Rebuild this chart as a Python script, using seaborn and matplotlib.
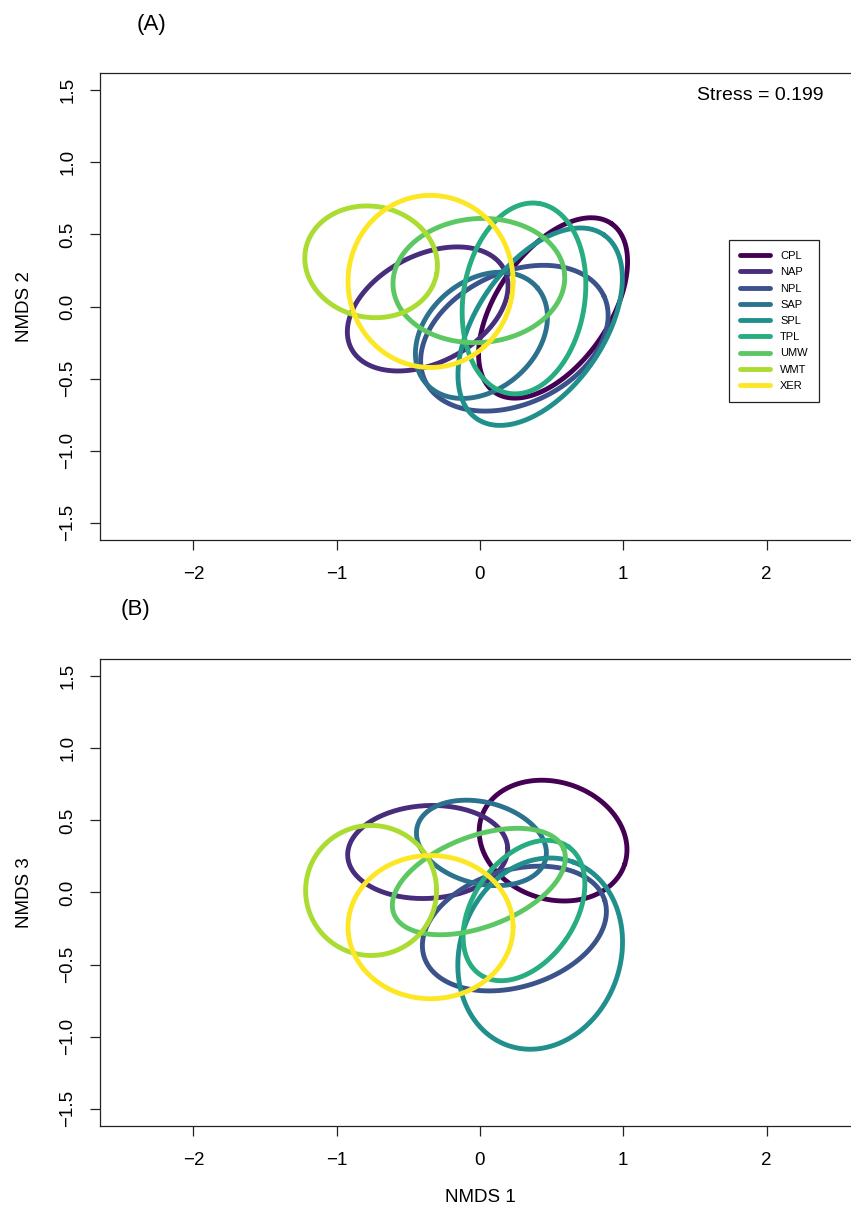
import numpy as np
import pandas as pd
import matplotlib
matplotlib.use("Agg")
import matplotlib.pyplot as plt
import seaborn as sns
from matplotlib.lines import Line2D

# ---------------- data ----------------
groups = ["CPL", "NAP", "NPL", "SAP", "SPL", "TPL", "UMW", "WMT", "XER"]
colors = ["#440154", "#472D7B", "#3B528B", "#2C728E", "#21908C",
          "#27AD81", "#5DC863", "#AADC32", "#FDE725"]

# ellipse centres on NMDS 1 (shared by both panels)
center_nmds1 = [0.51, -0.365, 0.24, 0.01, 0.42, 0.307, -0.008, -0.76, -0.345]

# Panel A: NMDS 1 vs NMDS 2
center_nmds2 = [-0.01, -0.017, -0.22, -0.20, -0.14, 0.056, 0.18, 0.31, 0.174]
semi_major_A = [0.713, 0.600, 0.690, 0.511, 0.777, 0.667, 0.600, 0.465, 0.576]
semi_minor_A = [0.392, 0.374, 0.456, 0.378, 0.441, 0.424, 0.430, 0.385, 0.597]
angle_A = [55, 27, 25, 40, 55, 81, 4, -10, 0]

# Panel B: NMDS 1 vs NMDS 3
center_nmds3 = [0.36, 0.281, -0.25, 0.344, -0.424, -0.125, 0.076, 0.014, -0.24]
semi_major_B = [0.526, 0.559, 0.660, 0.462, 0.676, 0.540, 0.634, 0.457, 0.576]
semi_minor_B = [0.406, 0.322, 0.405, 0.283, 0.560, 0.355, 0.315, 0.451, 0.497]
angle_B = [-18, 3, 17, -14, 70, 55, 20.5, 0, 0]

stress_value = 0.199
x_ticks = [-2, -1, 0, 1, 2]
y_ticks = [-1.5, -1.0, -0.5, 0.0, 0.5, 1.0, 1.5]


def ellipse_frame(cx, cy, a, b, ang, n=240):
    t = np.linspace(0, 2 * np.pi, n)
    frames = []
    for g, x0, y0, aa, bb, an in zip(groups, cx, cy, a, b, ang):
        th = np.deg2rad(an)
        x = x0 + aa * np.cos(t) * np.cos(th) - bb * np.sin(t) * np.sin(th)
        y = y0 + aa * np.cos(t) * np.sin(th) + bb * np.sin(t) * np.cos(th)
        frames.append(pd.DataFrame({"group": g, "x": x, "y": y}))
    return pd.concat(frames, ignore_index=True)


dfA = ellipse_frame(center_nmds1, center_nmds2, semi_major_A, semi_minor_A, angle_A)
dfB = ellipse_frame(center_nmds1, center_nmds3, semi_major_B, semi_minor_B, angle_B)

# ---------------- style ----------------
sns.set_style("white")
plt.rcParams["font.family"] = ["Liberation Sans", "DejaVu Sans"]
plt.rcParams["text.color"] = "black"
plt.rcParams["axes.labelcolor"] = "black"
plt.rcParams["xtick.color"] = "black"
plt.rcParams["ytick.color"] = "black"

W, H = 851, 1212
fig = plt.figure(figsize=(W / 100, H / 100), dpi=100)

def px_axes(left, top, right, bottom):
    return [left / W, 1 - bottom / H, (right - left) / W, (bottom - top) / H]

axA = fig.add_axes(px_axes(100, 73, 860, 540))
axB = fig.add_axes(px_axes(100, 659, 860, 1126))

LW = 3.5
for ax, df, ylab in [(axA, dfA, "NMDS 2"), (axB, dfB, "NMDS 3")]:
    sns.lineplot(data=df, x="x", y="y", hue="group", hue_order=groups,
                 palette=colors, sort=False, estimator=None, lw=LW,
                 legend=False, ax=ax)
    ax.set_xlim(-2.652, 2.652)
    ax.set_ylim(-1.62, 1.62)
    ax.set_xticks(x_ticks)
    ax.set_xticklabels([f"{v:g}".replace("-", "\u2212") for v in x_ticks])
    ax.set_yticks(y_ticks)
    ax.set_yticklabels([f"{v:.1f}".replace("-", "\u2212") for v in y_ticks],
                       rotation=90, va="center")
    ax.tick_params(axis="both", direction="out", length=7, width=0.9,
                   color="#222222", labelcolor="black", labelsize=13.5,
                   bottom=True, left=True)
    ax.tick_params(axis="x", pad=12)
    ax.tick_params(axis="y", pad=10)
    for s in ax.spines.values():
        s.set_visible(True)
        s.set_color("#222222")
        s.set_linewidth(0.9)
    ax.set_xlabel("")
    ax.set_ylabel(ylab, fontsize=13.5)
    ax.yaxis.label.set_va("center")
    ax.yaxis.set_label_coords((24 - 100) / 760, 0.5)

axB.set_xlabel("NMDS 1", fontsize=13.5)
axB.xaxis.label.set_va("center")
axB.xaxis.set_label_coords(0.5, (1126 - 1198) / 467)

axA.text((824 - 100) / 760, (540 - 96) / 467, f"Stress = {stress_value}",
         transform=axA.transAxes, ha="right", va="center", fontsize=14)

handles = [Line2D([0], [0], color=c, lw=LW) for c in colors]
leg = axA.legend(handles, groups, loc="upper left",
                 bbox_to_anchor=((729 - 100) / 760, (540 - 240) / 467),
                 borderaxespad=0, fontsize=8, handlelength=2.7,
                 handletextpad=0.9, labelspacing=0.56, borderpad=1.0,
                 frameon=True, fancybox=False, framealpha=1,
                 edgecolor="#222222")
leg.get_frame().set_linewidth(0.9)

fig.text(151 / W, 1 - 24.5 / H, "(A)", ha="center", va="center", fontsize=16)
fig.text(135 / W, 1 - 609 / H, "(B)", ha="center", va="center", fontsize=16)

fig.savefig("out.png", dpi=100)
